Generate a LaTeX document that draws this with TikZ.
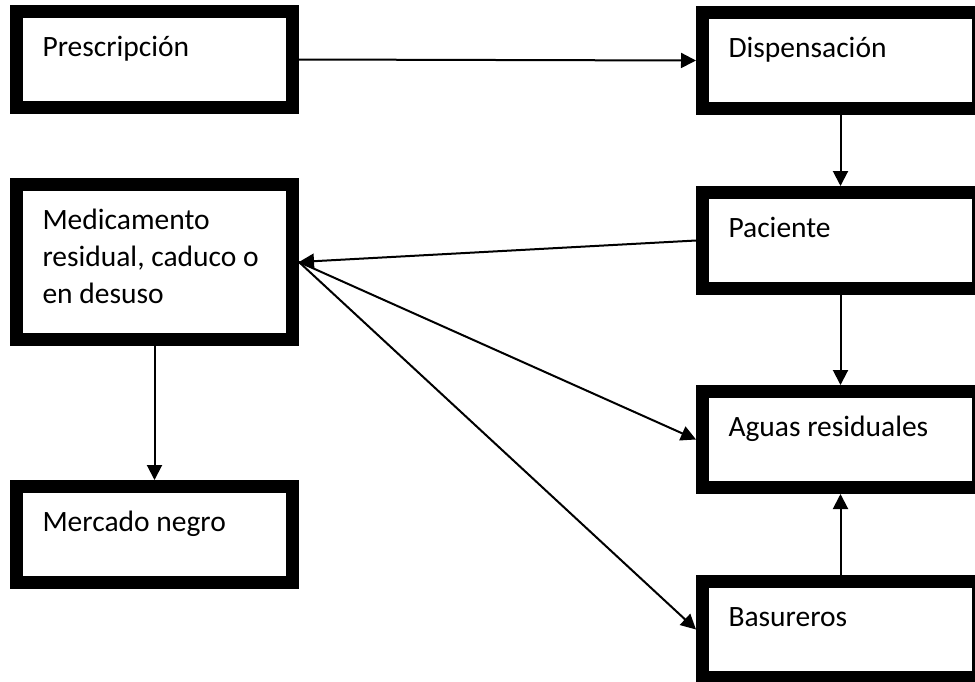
\documentclass[tikz,border=0pt]{standalone}
\usepackage{fontspec}
\setmainfont{Carlito}
\usetikzlibrary{arrows.meta}

\begin{document}
\begin{tikzpicture}[x = 1pt, y = -1pt, font = \fontsize{29.5}{37}\selectfont,
        caja/.style = {draw, line width = 13pt, anchor = north west, align = left,
            text width = 224pt, inner xsep = 26pt, inner ysep = 0pt,
            text height = 45pt, text depth = 51pt,
            execute at begin node = {\spaceskip=0pt\xspaceskip=0pt\relax}},
        flecha/.style = {line width = 2pt, -{Triangle[length = 15pt, width = 15pt]}}]
        \useasboundingbox (0,0) rectangle (975,681);
        
        \node[caja] (prescripcion) at (10,5) {Prescripción};
        \node[caja] (dispensacion) at (696,6) {Dispensación};
        \node[caja, text depth = 110pt] (medicamento) at (10,178) {Medicamento\\residual, caduco o\\en desuso};
        \node[caja] (paciente) at (696,186) {Paciente};
        \node[caja] (aguas) at (696,385) {Aguas residuales};
        \node[caja] (mercado) at (10,480) {Mercado negro};
        \node[caja] (basureros) at (696,575) {Basureros};
        
        \draw[flecha] (prescripcion.east) -- (dispensacion.west);
        \draw[flecha] (dispensacion.south) -- (paciente.north);
        \draw[flecha] (paciente.south) -- (aguas.north);
        \draw[flecha] (basureros.north) -- (aguas.south);
        \draw[flecha] (paciente.west) -- (medicamento.east);
        \draw[flecha] (medicamento.east) -- (aguas.west);
        \draw[flecha] (medicamento.east) -- (basureros.west);
        \draw[flecha] (medicamento.south) -- (mercado.north);
\end{tikzpicture}
\end{document}
